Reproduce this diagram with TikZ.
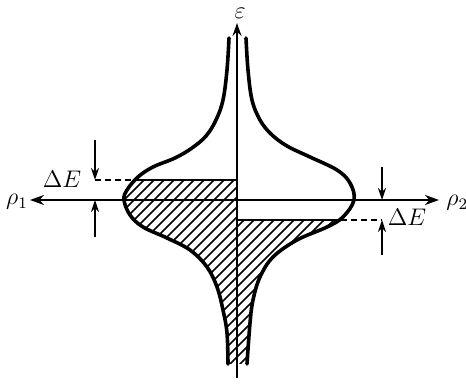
\documentclass[tikz,border=0pt]{standalone}
\usepackage{tikz}
\usetikzlibrary{arrows.meta}

\begin{document}
\begin{tikzpicture}[x=0.5pt, y=-0.5pt,
  curve/.style={line width=1.8pt, line join=round, line cap=round},
  axisline/.style={line width=1pt},
  hatch/.style={line width=0.75pt},
  level/.style={line width=1.3pt},
  guide/.style={line width=0.9pt, dash pattern=on 3pt off 2pt},
  gap/.style={line width=0.8pt, -{Stealth[length=6pt, width=4pt]}},
  lbl/.style={font=\large, inner sep=0pt}]
\useasboundingbox (0,0) rectangle (466,384);
% filled states, left side
\begin{scope}
\clip (100,180) rectangle (237,370);
\clip plot[smooth, tension=0.6] coordinates {(229,38) (227,70) (223,100) (216,120) (206,136) (192,148) (175,158) (153,167) (138,177) (127,190) (124,200) (130,215) (143,227) (167,238) (190,250) (207,267) (217,287) (223,310) (227,333) (228,364)}
  -- (237,364) -- (237,38) -- cycle;
\foreach \c in {-90,-80,...,340} \draw[hatch] (\c,384) -- ++(250,-250);
\end{scope}
% filled states, right side
\begin{scope}
\clip (237,220) rectangle (370,370);
\clip plot[smooth, tension=0.6] coordinates {(246,38) (248,70) (252,100) (260,120) (271,134) (287,146) (310,157) (337,170) (350,183) (354,200) (343,217) (327,227) (297,240) (273,257) (260,277) (253,300) (250,323) (247,364)}
  -- (237,364) -- (237,38) -- cycle;
\foreach \c in {-90,-80,...,340} \draw[hatch] (\c,384) -- ++(250,-250);
\end{scope}
% density of states curves
\draw[curve] plot[smooth, tension=0.6] coordinates {(229,38) (227,70) (223,100) (216,120) (206,136) (192,148) (175,158) (153,167) (138,177) (127,190) (124,200) (130,215) (143,227) (167,238) (190,250) (207,267) (217,287) (223,310) (227,333) (228,364)};
\draw[curve] plot[smooth, tension=0.6] coordinates {(246,38) (248,70) (252,100) (260,120) (271,134) (287,146) (310,157) (337,170) (350,183) (354,200) (343,217) (327,227) (297,240) (273,257) (260,277) (253,300) (250,323) (247,364)};
% levels
\coordinate (lf) at (134,180);
\coordinate (la) at (237,180);
\coordinate (ld) at (95,180);
\coordinate (rf) at (341,220);
\coordinate (ra) at (237,220);
\coordinate (rd) at (382,220);
\draw[level] (lf) -- (la);
\draw[level] (ra) -- (rf);
\draw[guide] (ld) -- (lf);
\draw[guide] (rf) -- (rd);
% axes
\coordinate (ebot) at (237,378);
\coordinate (etop) at (237,23);
\coordinate (pleft) at (30,200);
\coordinate (pright) at (439,200);
\draw[axisline, -{Stealth[length=6.5pt, width=4.5pt]}] (ebot) -- (etop);
\draw[axisline, {Stealth[length=7pt, width=5pt]}-{Stealth[length=7pt, width=5pt]}] (pleft) -- (pright);
\node[lbl] (eps) at (240,13) {$\varepsilon$};
\node[lbl] (rhoone) at (17,202) {$\rho_1$};
\node[lbl, anchor=west] (rhotwo) at (446,203) {$\rho_2$};
% energy gaps
\coordinate (lgt) at (95,140);
\coordinate (lax) at (95,200);
\coordinate (lgb) at (95,237);
\coordinate (rgt) at (382,167);
\coordinate (rax) at (382,200);
\coordinate (rgb) at (382,255);
\draw[gap] (lgt) -- (ld);
\draw[gap] (lgb) -- (lax);
\draw[gap] (rgt) -- (rax);
\draw[gap] (rgb) -- (rd);
\node[lbl] (dEleft) at (62,179) {$\Delta E$};
\node[lbl] (dEright) at (407,217) {$\Delta E$};
\end{tikzpicture}
\end{document}
